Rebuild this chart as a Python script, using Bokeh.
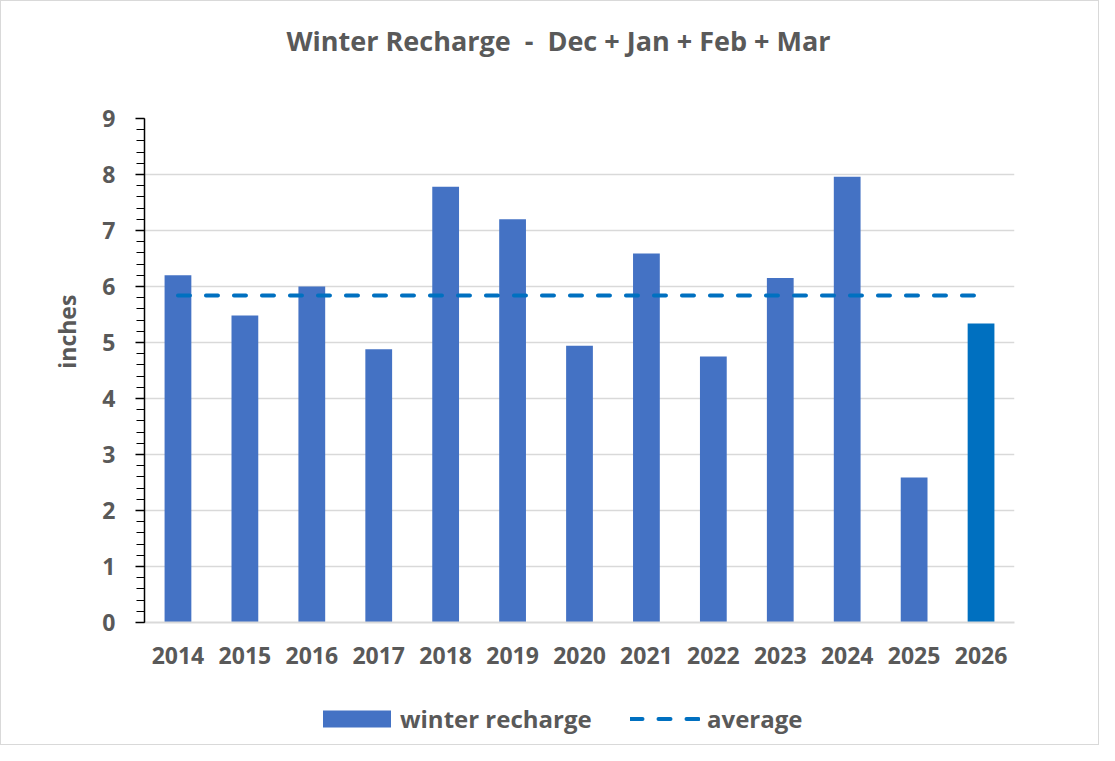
from bokeh.plotting import figure
from bokeh.layouts import column
from bokeh.models import (ColumnDataSource, FactorRange, Range1d, SingleIntervalTicker,
                          Legend, LegendItem, Label)
from bokeh.embed import file_html
from bokeh.resources import INLINE

# ---- data ----
years = ["2014", "2015", "2016", "2017", "2018", "2019", "2020",
         "2021", "2022", "2023", "2024", "2025", "2026"]
recharge = [6.20, 5.48, 6.00, 4.88, 7.78, 7.20, 4.94, 6.59, 4.75, 6.15, 7.96, 2.59, 5.34]
average = [5.84, 5.84, 5.84, 5.84, 5.84, 5.84, 5.84, 5.84, 5.84, 5.84, 5.84, 5.84, 5.84]
title_text = "Winter Recharge \u00a0-\u00a0 Dec + Jan + Feb + Mar"
y_label = "inches"
series_labels = ["winter recharge", "average"]

BAR = "#4472C4"
BAR_LAST = "#0070C0"
LINE = "#0070C0"
TXT = "#595959"
FONT = "Open Sans"
W = 1097
FRAME_LEFT = 143

colors = [BAR] * (len(years) - 1) + [BAR_LAST]
src = ColumnDataSource(dict(year=years, recharge=recharge, average=average, color=colors))
xr = FactorRange(factors=years, range_padding=0)


def strip(height, y_range):
    f = figure(width=W, height=height, x_range=xr, y_range=y_range,
               output_backend="svg", toolbar_location=None,
               min_border_left=FRAME_LEFT, min_border_right=84, min_border_top=0, min_border_bottom=0)
    f.axis.visible = False
    f.grid.visible = False
    f.outline_line_color = None
    f.background_fill_color = "white"
    f.border_fill_color = "white"
    return f


# ---- title strip ----
pt = strip(80, Range1d(0, 1))
pt.add_layout(Label(x=557 - FRAME_LEFT, y=41, x_units="screen", y_units="screen", text=title_text,
                    text_align="center", text_baseline="middle", text_font=FONT,
                    text_font_size="27px", text_font_style="bold", text_color=TXT))

# ---- main chart ----
p = figure(x_range=xr, y_range=Range1d(0, 9),
           frame_width=870, frame_height=504, output_backend="svg", toolbar_location=None,
           min_border_left=FRAME_LEFT, min_border_right=84, min_border_top=37, min_border_bottom=55)
p.outline_line_color = None
p.background_fill_color = "white"
p.border_fill_color = "white"

r = p.vbar(x="year", top="recharge", width=0.4, source=src, fill_color="color", line_color=None)
l = p.line(x="year", y="average", source=src, line_color=LINE, line_width=4,
           line_dash="12 16", line_cap="round")

p.xgrid.visible = False
p.ygrid.grid_line_color = "#D9D9D9"
p.ygrid.grid_line_width = 1.5

ya = p.yaxis[0]
ya.ticker = SingleIntervalTicker(interval=1, num_minor_ticks=5)
ya.axis_line_color = "black"
ya.axis_line_width = 1.5
ya.major_tick_line_color = "black"
ya.major_tick_line_width = 1.5
ya.minor_tick_line_color = "black"
ya.minor_tick_line_width = 1
ya.major_tick_in = 0
ya.major_tick_out = 9
ya.minor_tick_in = 0
ya.minor_tick_out = 8
ya.major_label_standoff = 20
ya.major_label_text_font = FONT
ya.major_label_text_font_size = "23px"
ya.major_label_text_font_style = "bold"
ya.major_label_text_color = TXT
# leading no-break spaces lift the label above the frame centre, as in the reference
ya.axis_label = "\u00a0" * 13 + y_label
ya.axis_label_text_font = FONT
ya.axis_label_text_font_size = "23px"
ya.axis_label_text_font_style = "bold"
ya.axis_label_text_color = TXT
ya.axis_label_standoff = 16

xa = p.xaxis[0]
xa.axis_line_color = "#D9D9D9"
xa.axis_line_width = 2
xa.major_tick_line_color = None
xa.minor_tick_line_color = None
xa.major_label_standoff = 18
xa.major_label_text_font = FONT
xa.major_label_text_font_size = "23px"
xa.major_label_text_font_style = "bold"
xa.major_label_text_color = TXT

# ---- legend strip (same series, drawn out of view; only the legend shows) ----
pl = strip(67, Range1d(100, 101))
lr = pl.vbar(x="year", top="recharge", width=0.4, source=src, fill_color=BAR, line_color=None)
ll = pl.line(x="year", y="average", source=src, line_color=LINE, line_width=4,
             line_dash="12 16", line_cap="round")

common = dict(orientation="horizontal", label_text_font=FONT, label_text_font_size="24px",
              label_text_font_style="bold", label_text_color=TXT, border_line_color=None,
              background_fill_alpha=0, margin=0, padding=5)
leg_bar = Legend(items=[LegendItem(label=series_labels[0], renderers=[lr], index=0)],
                 location=(313 - FRAME_LEFT, 9), glyph_width=85, glyph_height=21,
                 label_standoff=1, **common)
leg_line = Legend(items=[LegendItem(label=series_labels[1], renderers=[ll])],
                  location=(629 - FRAME_LEFT, 9), glyph_width=70, glyph_height=21,
                  label_standoff=7, **common)
pl.add_layout(leg_bar, "center")
pl.add_layout(leg_line, "center")

layout = column(pt, p, pl, spacing=0, styles={"border": "1px solid #d9d9d9"})

open("out.html", "w").write(file_html(layout, INLINE))
